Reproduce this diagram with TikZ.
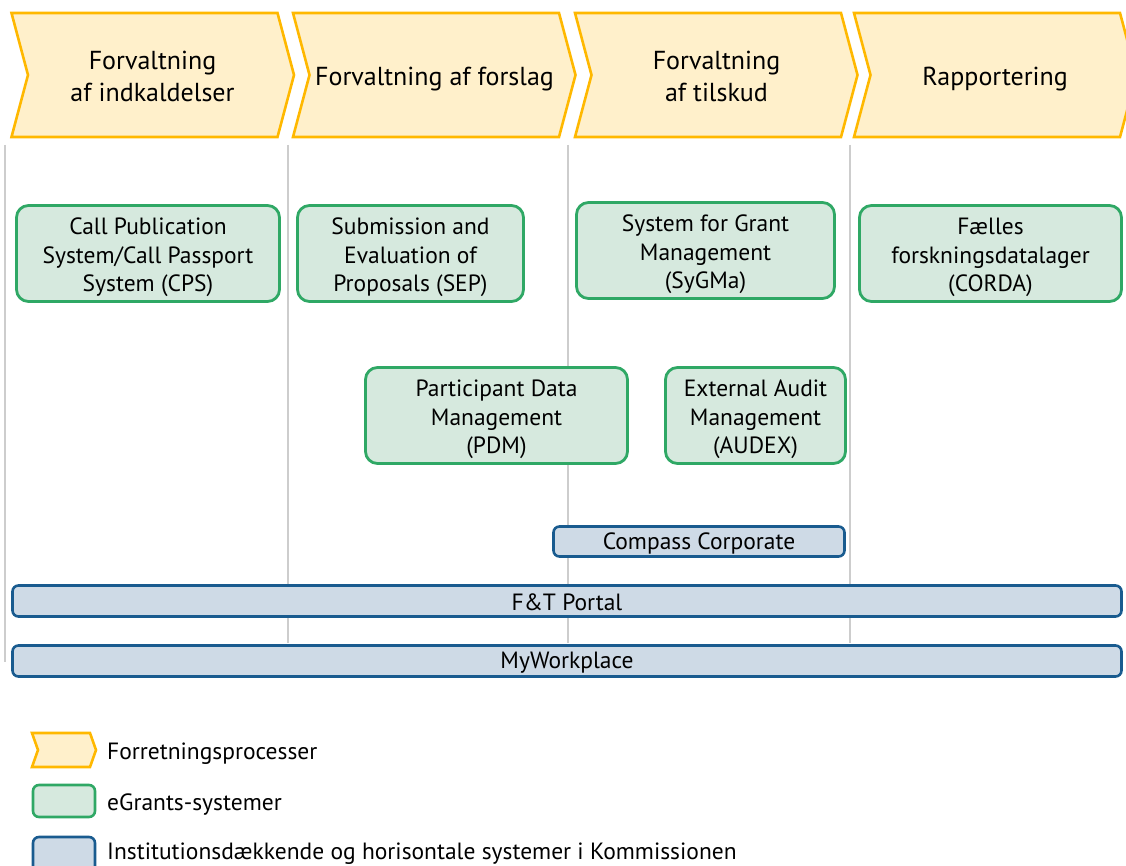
\documentclass[tikz,border=0pt]{standalone}
\usepackage{fontspec}
\setmainfont{PT Sans}
\definecolor{chevfill}{HTML}{FFF0CB}
\definecolor{chevdraw}{HTML}{FFB800}
\definecolor{grnfill}{HTML}{D6E9DE}
\definecolor{grndraw}{HTML}{2FA865}
\definecolor{blufill}{HTML}{CEDAE6}
\definecolor{bludraw}{HTML}{195B8F}
\definecolor{divline}{HTML}{CDCDCD}
\tikzset{
  chevshape/.style={draw=chevdraw, fill=chevfill, line width=2.6pt, line join=miter},
  chevtext/.style={align=center, font=\fontsize{26}{32}\selectfont, inner sep=0pt},
  egrant/.style={draw=grndraw, fill=grnfill, line width=2.8pt, rounded corners=12pt, inner sep=0pt},
  egtext/.style={align=center, font=\fontsize{23.5}{28.5}\selectfont, inner sep=0pt},
  horiz/.style={draw=bludraw, fill=blufill, line width=2.6pt, rounded corners=6pt, inner sep=0pt},
  hortext/.style={align=center, font=\fontsize{23.5}{28}\selectfont, inner sep=0pt},
  divider/.style={draw=divline, line width=1.3pt},
  legtext/.style={anchor=west, font=\fontsize{23.5}{28}\selectfont, inner sep=0pt},
}
\begin{document}
\begin{tikzpicture}[x=1pt,y=-1pt]
\useasboundingbox (0,0) rectangle (1126,866);
\begin{scope}
\clip (0,0) rectangle (1126,866);
% dividers
\draw[divider] (5,145) -- (5,662);
\draw[divider] (288,145) -- (288,643);
\draw[divider] (568,145) -- (568,643);
\draw[divider] (850,145) -- (850,643);
% chevrons
\foreach \x in {11.5,293,575,854}{
  \draw[chevshape] (\x,13) -- ++(266,0) -- ++(16.5,62) -- ++(-16.5,62) -- ++(-266,0) -- ++(16.5,-62) -- cycle;
}
\node[chevtext] (p1) at (152.5,76) {Forvaltning\\af indkaldelser};
\node[chevtext] (p2) at (434.5,79) {Forvaltning af forslag};
\node[chevtext] (p3) at (716.5,76) {Forvaltning\\af tilskud};
\node[chevtext] (p4) at (995,79) {Rapportering};
% eGrants systems
\node[egrant, minimum width=263pt, minimum height=96pt] (cps) at (148,253.5) {};
\node[egrant, minimum width=226pt, minimum height=96pt] (sep) at (410.5,253.5) {};
\node[egrant, minimum width=258pt, minimum height=96pt] (sygma) at (705.5,250.5) {};
\node[egrant, minimum width=262pt, minimum height=96pt] (corda) at (990.5,253.5) {};
\node[egrant, minimum width=262pt, minimum height=96pt] (pdm) at (496.5,415.5) {};
\node[egrant, minimum width=180pt, minimum height=96pt] (audex) at (755.5,415.5) {};
\node[egtext] (cpst) at ([yshift=-4pt]cps.center) {Call Publication\\System/Call Passport\\System (CPS)};
\node[egtext] (sept) at ([yshift=-4pt]sep.center) {Submission and\\Evaluation of\\Proposals (SEP)};
\node[egtext] (sygmat) at ([yshift=-4pt]sygma.center) {System for Grant\\Management\\(SyGMa)};
\node[egtext] (cordat) at ([yshift=-4pt]corda.center) {Fælles\\forskningsdatalager\\(CORDA)};
\node[egtext] (pdmt) at ([yshift=-4pt]pdm.center) {Participant Data\\Management\\(PDM)};
\node[egtext] (audext) at ([yshift=-4pt]audex.center) {External Audit\\Management\\(AUDEX)};
% horizontal systems
\node[horiz, minimum width=291pt, minimum height=30pt] (compass) at (699,541.5) {};
\node[horiz, minimum width=1109pt, minimum height=31pt] (ftportal) at (567,601) {};
\node[horiz, minimum width=1109pt, minimum height=31pt] (mywork) at (567,661) {};
\node[hortext] (compasst) at ([yshift=-1.5pt]compass.center) {Compass Corporate};
\node[hortext] (ftportalt) at ([yshift=-1.5pt]ftportal.center) {F\&T Portal};
\node[hortext] (myworkt) at ([yshift=-1.5pt]mywork.center) {MyWorkplace};
% legend
\draw[chevshape] (32,733) -- (90,733) -- (96,750) -- (90,767) -- (32,767) -- (38,750) -- cycle;
\draw[draw=grndraw, fill=grnfill, line width=2.6pt, rounded corners=6pt] (33,785) rectangle (95,817);
\draw[draw=bludraw, fill=blufill, line width=2.6pt, rounded corners=6pt] (33,837) rectangle (95,880);
\node[legtext] (l1) at (107,754) {Forretningsprocesser};
\node[legtext] (l2) at (107,805) {eGrants-systemer};
\node[legtext] (l3) at (107,854) {Institutionsdækkende og horisontale systemer i Kommissionen};
\end{scope}
\end{tikzpicture}
\end{document}
